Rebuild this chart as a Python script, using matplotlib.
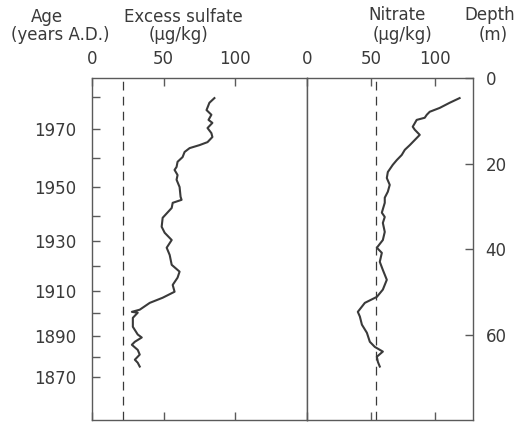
import matplotlib
matplotlib.use("Agg")
import matplotlib.pyplot as plt
from matplotlib.ticker import FixedLocator, NullFormatter

# Excess sulfate profile (ug/kg) against depth (m)
sulfate_depth = [4.7, 5.8, 7.5, 8.6, 9.8, 10.5, 11.7, 12.9, 13.8, 15.0, 15.7, 16.4,
                 17.3, 18.5, 19.6, 20.8, 21.5, 22.7, 23.8, 25.5, 27.8, 28.5, 29.2,
                 30.4, 32.7, 34.8, 36.2, 37.9, 39.7, 41.4, 43.7, 45.3, 46.7, 48.4,
                 50.0, 51.4, 52.6, 54.2, 54.7, 54.9, 56.1, 58.2, 60.0, 60.7, 61.7,
                 62.4, 63.6, 64.7, 65.9, 66.6, 67.5]
sulfate_value = [85.4, 81.9, 79.9, 83.3, 81.3, 84.0, 80.6, 83.3, 84.0, 80.6, 75.0, 68.1,
                 64.6, 63.2, 59.7, 59.0, 57.6, 59.7, 59.0, 61.1, 61.8, 62.5, 56.3,
                 55.6, 49.3, 48.6, 50.7, 55.6, 52.1, 54.2, 55.6, 61.1, 59.7, 56.3,
                 57.6, 49.3, 40.3, 33.3, 27.8, 31.9, 28.5, 28.5, 31.9, 34.7, 29.9,
                 27.8, 31.9, 33.3, 29.9, 31.9, 33.3]
sulfate_background = 21.5

# Nitrate profile (ug/kg) against depth (m)
nitrate_depth = [4.7, 5.8, 7.0, 7.9, 8.6, 9.3, 9.8, 11.4, 12.1, 13.3, 14.5, 15.7, 16.8,
                 18.0, 19.2, 20.3, 22.0, 23.4, 25.0, 26.6, 28.0, 29.2, 31.5, 32.5,
                 33.9, 36.0, 37.9, 39.7, 40.9, 43.0, 44.9, 47.2, 49.5, 51.2, 52.6,
                 54.7, 55.8, 57.7, 59.6, 61.7, 62.9, 64.0, 65.2, 66.4, 67.5]
nitrate_value = [119.5, 111.7, 103.9, 96.1, 93.8, 92.2, 85.9, 82.8, 84.4, 88.3, 84.4,
                 80.5, 76.6, 74.2, 70.3, 67.2, 63.3, 62.5, 64.8, 63.3, 60.9, 60.9,
                 58.6, 60.9, 59.4, 60.9, 59.4, 54.7, 58.6, 57.0, 59.4, 62.5, 59.4,
                 54.7, 45.3, 39.8, 41.4, 43.0, 46.9, 49.2, 53.1, 59.4, 54.7, 55.5, 57.0]
nitrate_background = 54.0

# Age scale (years A.D.) positioned at depth (m)
age_years = [1980, 1970, 1960, 1950, 1940, 1930, 1920, 1910, 1900, 1890, 1880, 1870]
age_depth = [4.4, 11.9, 18.7, 25.5, 32.2, 38.1, 43.9, 49.8, 54.9, 60.3, 65.2, 69.9]
age_labelled = [1970, 1950, 1930, 1910, 1890, 1870]

depth_ticks = [0, 20, 40, 60]
sulfate_ticks = [0, 50, 100]
nitrate_ticks = [0, 50, 100]

W, H = 528, 423
ink = "#3a3a3a"
frame = "#5a5a5a"
plt.rcParams["font.family"] = ["DejaVu Sans"]
plt.rcParams["font.size"] = 12

fig = plt.figure(figsize=(W / 100, H / 100), dpi=100)
x0, xm, x1 = 92 / W, 307 / W, 473 / W
ytop, ybot = 1 - 78 / H, 1 - 420 / H
ax1 = fig.add_axes([x0, ybot, xm - x0, ytop - ybot])
ax2 = fig.add_axes([xm, ybot, x1 - xm, ytop - ybot])

for ax in (ax1, ax2):
    ax.set_ylim(80, 0)
    for s in ax.spines.values():
        s.set_color(frame)
        s.set_linewidth(1.0)
    ax.tick_params(axis="x", which="both", direction="in", top=True, bottom=True,
                   labeltop=True, labelbottom=False, length=6, width=1,
                   color=frame, labelcolor=ink, pad=7)

# Sulfate panel
ax1.set_xlim(0, 150)
ax1.plot(sulfate_value, sulfate_depth, color=ink, lw=1.5, solid_joinstyle="round")
ax1.axvline(sulfate_background, color=ink, lw=0.9, dashes=(7, 5))
ax1.xaxis.set_major_locator(FixedLocator(sulfate_ticks))
ax1.yaxis.set_major_locator(FixedLocator([age_depth[age_years.index(y)] for y in age_labelled]))
ax1.yaxis.set_major_formatter(plt.FixedFormatter([str(y) for y in age_labelled]))
ax1.yaxis.set_minor_locator(FixedLocator([d for y, d in zip(age_years, age_depth) if y not in age_labelled]))
ax1.yaxis.set_minor_formatter(NullFormatter())
ax1.tick_params(axis="y", which="both", direction="in", left=True, right=False,
                length=6, width=1, color=frame, labelcolor=ink, pad=11)

# Nitrate panel
ax2.set_xlim(0, 130)
ax2.plot(nitrate_value, nitrate_depth, color=ink, lw=1.5, solid_joinstyle="round")
ax2.axvline(nitrate_background, color=ink, lw=0.9, dashes=(7, 5))
ax2.xaxis.set_major_locator(FixedLocator(nitrate_ticks))
ax2.yaxis.set_major_locator(FixedLocator(depth_ticks))
ax2.tick_params(axis="y", which="both", direction="in", left=False, right=True,
                labelleft=False, labelright=True, length=6, width=1,
                color=frame, labelcolor=ink, pad=9)

# Column headings
def heading(x, y, s):
    fig.text(x / W, 1 - y / H, s, ha="center", va="center", color=ink, fontsize=12)

heading(47, 17, "Age")
heading(60, 35, "(years A.D.)")
heading(183, 17, "Excess sulfate")
heading(179, 35, "(μg/kg)")
heading(397, 15, "Nitrate")
heading(402, 35, "(μg/kg)")
heading(490, 15, "Depth")
heading(493, 35, "(m)")

fig.savefig("out.png", dpi=100, facecolor="white")
